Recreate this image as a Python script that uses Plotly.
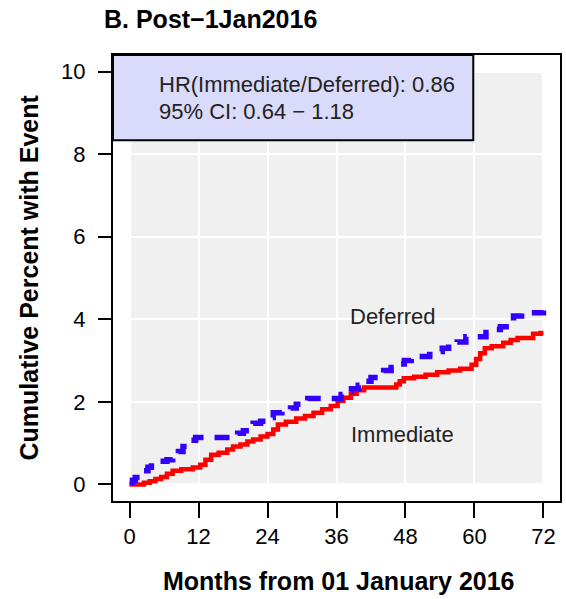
import plotly.graph_objects as go

# ---- data ----
immediate_months = [0, 2.5, 3.5, 4.5, 5.5, 6.5, 7.5, 9, 11, 12.3,
                    13.2, 14.2, 15.5, 17, 18, 19.3, 20.5, 21.5, 22.8, 24,
                    25, 25.8, 27.2, 29, 30.5, 32, 33.5, 35, 36.2, 37.2,
                    38.5, 39.5, 40.8, 46.4, 47, 47.7, 49.5, 51.5, 53.5, 55.5,
                    57.5, 59.5, 60.3, 61, 61.8, 63, 65, 66.3, 67.5, 70.2,
                    71.5, 72]
immediate_pct = [0, 0.04, 0.08, 0.13, 0.18, 0.26, 0.33, 0.37, 0.41, 0.48,
                 0.6, 0.72, 0.77, 0.85, 0.92, 0.97, 1.04, 1.09, 1.16, 1.22,
                 1.33, 1.45, 1.52, 1.6, 1.66, 1.74, 1.82, 1.9, 2.03, 2.1,
                 2.2, 2.28, 2.35, 2.42, 2.5, 2.57, 2.61, 2.66, 2.72, 2.76,
                 2.8, 2.9, 3.04, 3.18, 3.3, 3.35, 3.43, 3.5, 3.55, 3.65,
                 3.67, 3.67]

deferred_months = [0, 0.5, 1.0, 1.8, 2.5, 3.2, 3.8, 4.5, 6.5, 7.5,
                   8.5, 9.3, 10.0, 10.7, 11.5, 17.5, 18.8, 19.8, 20.8, 21.5,
                   22.8, 24.0, 25.0, 26.5, 28.0, 29.0, 30.0, 31.0, 36.8, 37.6,
                   38.6, 39.8, 40.8, 42.0, 43.2, 44.2, 45.5, 46.8, 47.8, 49.0,
                   52.2, 53.2, 54.4, 55.5, 57.0, 58.5, 62.0, 63.2, 64.5, 66.0,
                   66.8, 68.2, 72]
deferred_pct = [0.05, 0.1, 0.17, 0.25, 0.33, 0.42, 0.53, 0.56, 0.6, 0.68,
                0.8, 0.92, 1.0, 1.07, 1.14, 1.19, 1.24, 1.3, 1.4, 1.48,
                1.53, 1.62, 1.74, 1.77, 1.85, 1.94, 2.03, 2.08, 2.18, 2.25,
                2.32, 2.4, 2.5, 2.59, 2.68, 2.76, 2.83, 2.92, 3.0, 3.1,
                3.15, 3.22, 3.3, 3.4, 3.45, 3.58, 3.68, 3.75, 3.82, 3.95,
                4.08, 4.16, 4.21]

x_ticks = [0, 12, 24, 36, 48, 60, 72]
y_ticks = [0, 2, 4, 6, 8, 10]

title_text = "B. Post\u22121Jan2016"
x_title = "Months from 01 January 2016"
y_title = "Cumulative Percent with Event"
hr_line1 = "HR(Immediate/Deferred): 0.86"
hr_line2 = "95% CI: 0.64 \u2212 1.18"

FONT = "Liberation Sans, Arial, sans-serif"

fig = go.Figure()

fig.add_trace(go.Scatter(
    x=immediate_months, y=immediate_pct, mode="lines", line_shape="hv",
    line=dict(color="#ff0000", width=4.5), name="Immediate", showlegend=False))
fig.add_trace(go.Scatter(
    x=deferred_months, y=deferred_pct, mode="lines", line_shape="hv",
    line=dict(color="#3300ff", width=5.5, dash="15px,11px"), name="Deferred",
    showlegend=False))

# grey panel
fig.add_shape(type="rect", xref="x", yref="y", x0=0, x1=72, y0=0, y1=10,
              fillcolor="#f0f0f0", line=dict(width=0), layer="below")

# HR box
fig.add_shape(type="rect", xref="paper", yref="paper", x0=0, x1=0.806,
              y0=0.809, y1=1.0, fillcolor="#dadafa",
              line=dict(color="black", width=2), layer="above")

ann = []
ann.append(dict(text=hr_line1, xref="paper", yref="paper", x=0.098, y=0.933,
                xanchor="left", yanchor="middle", showarrow=False,
                font=dict(family=FONT, size=22, color="#222")))
ann.append(dict(text=hr_line2, xref="paper", yref="paper", x=0.098, y=0.873,
                xanchor="left", yanchor="middle", showarrow=False,
                font=dict(family=FONT, size=22, color="#222")))
ann.append(dict(text="Deferred", xref="x", yref="y", x=45.8, y=4.07,
                xanchor="center", yanchor="middle", showarrow=False,
                font=dict(family=FONT, size=22, color="#222")))
ann.append(dict(text="Immediate", xref="x", yref="y", x=47.4, y=1.22,
                xanchor="center", yanchor="middle", showarrow=False,
                font=dict(family=FONT, size=22, color="#222")))
ann.append(dict(text="<b>" + x_title + "</b>", xref="paper", yref="paper",
                x=0.505, y=-0.18, xanchor="center", yanchor="middle",
                showarrow=False, font=dict(family=FONT, size=25, color="black")))
ann.append(dict(text="<b>" + y_title + "</b>", xref="paper", yref="paper",
                x=-0.189, y=0.5, xanchor="center", yanchor="middle",
                textangle=-90, showarrow=False,
                font=dict(family=FONT, size=25, color="black")))
ann.append(dict(text="<b>" + title_text + "</b>", xref="paper", yref="paper",
                x=-0.0245, y=1.0807, xanchor="left", yanchor="middle",
                showarrow=False, font=dict(family=FONT, size=25, color="black")))

fig.update_layout(
    width=566, height=599,
    margin=dict(l=113, r=4, t=55, b=98, pad=0),
    paper_bgcolor="white", plot_bgcolor="white",
    annotations=ann,
    font=dict(family=FONT, size=22, color="black"),
)
fig.update_xaxes(range=[-2.88, 74.88], tickvals=x_ticks,
                 ticktext=[str(v) for v in x_ticks],
                 showgrid=True, gridcolor="white", gridwidth=2,
                 zeroline=False, showline=True, mirror=True,
                 linecolor="black", linewidth=2,
                 ticks="outside", ticklen=15, tickwidth=2, tickcolor="black",
                 tickfont=dict(family=FONT, size=22, color="black"))
fig.update_yaxes(range=[-0.4, 10.4], tickvals=y_ticks,
                 ticktext=[str(v) for v in y_ticks],
                 showgrid=True, gridcolor="white", gridwidth=2,
                 zeroline=False, showline=True, mirror=True,
                 linecolor="black", linewidth=2,
                 ticks="outside", ticklen=13, tickwidth=2, tickcolor="black",
                 ticklabelstandoff=8,
                 tickfont=dict(family=FONT, size=22, color="black"))

fig.write_html("out.html")
